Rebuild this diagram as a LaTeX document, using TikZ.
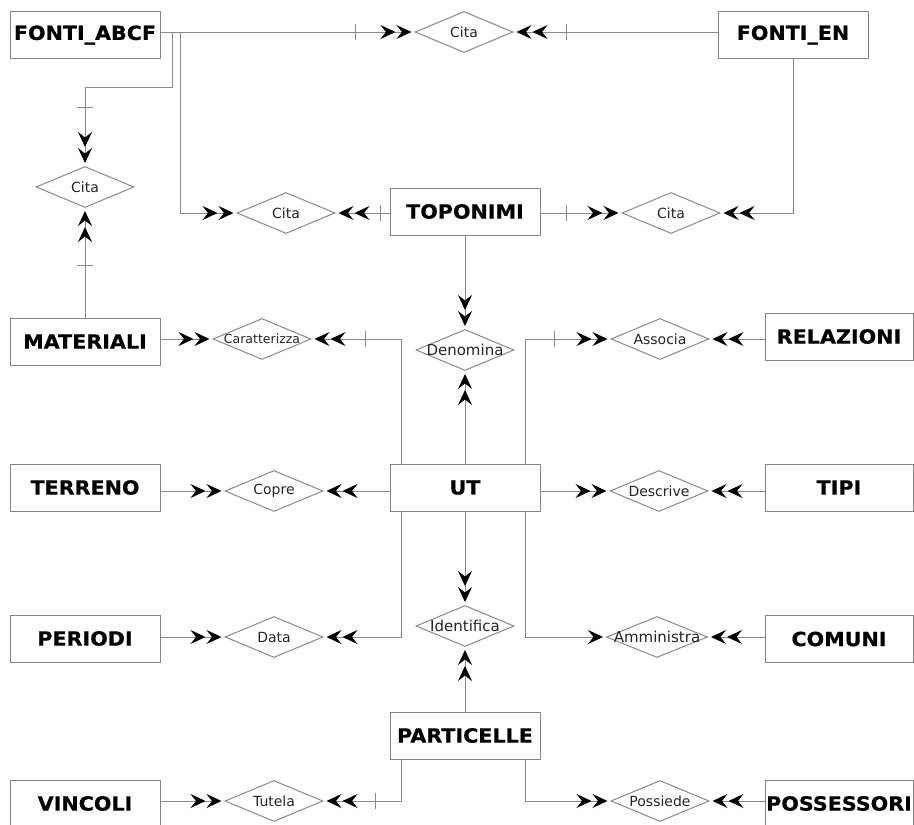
\documentclass[tikz,border=0pt]{standalone}
\usepackage{fontspec}
\usetikzlibrary{arrows.meta,shapes.geometric,calc}
\newfontfamily\entfont[FakeStretch=1.06,BoldFeatures={FakeBold=0.6}]{DejaVu Sans}
\newfontfamily\relfont{DejaVu Sans}
\definecolor{lineg}{HTML}{8A8A8A}
\definecolor{boxg}{HTML}{858585}
\tikzset{
  ent/.style={rectangle, draw=boxg, line width=1pt, minimum width=150pt,
    minimum height=47pt, inner sep=0pt, text=black,
    font=\entfont\bfseries\fontsize{19.5}{19.5}\selectfont},
  rel/.style={diamond, draw=lineg, line width=1pt, minimum width=98pt,
    minimum height=41pt, inner sep=0pt, text=black!85,
    font=\relfont\fontsize{14}{14}\selectfont,
    execute at begin node={\hbox to 0pt\bgroup\hss},
    execute at end node={\hss\egroup}},
  small/.style={font=\relfont\fontsize{12.5}{12.5}\selectfont},
  big/.style={font=\relfont\fontsize{15}{15}\selectfont},
  conn/.style={draw=lineg, line width=1pt},
  card/.style={conn, shorten >=3pt,
    -{Stealth[length=15pt,width=14pt,inset=5.5pt,sep=1pt,color=black]
      Stealth[length=15pt,width=14pt,inset=5.5pt,color=black]}},
  single/.style={conn, shorten >=3pt,
    -{Stealth[length=15pt,width=14pt,inset=5.5pt,color=black]}},
  tickln/.style={draw=lineg, line width=1pt},
}
\newcommand\vtick[2]{\draw[tickln] (#1,#2-8) -- (#1,#2+8);}
\newcommand\htick[2]{\draw[tickln] (#1-8,#2) -- (#1+8,#2);}
\begin{document}
\begin{tikzpicture}[x=1pt,y=-1pt]
\clip (0,0) rectangle (914,825);
\fill[white] (0,0) rectangle (914,825);

% entities
\node[ent] (fabcf) at (85,35) {FONTI\_ABCF};
\node[ent] (fen) at (793,35) {FONTI\_EN};
\node[ent] (topo) at (465,211.5) {TOPONIMI};
\node[ent] (mat) at (85,341.5) {MATERIALI};
\node[ent, minimum width=148pt] (rel) at (839,336.5) {RELAZIONI};
\node[ent] (terr) at (85,487.5) {TERRENO};
\node[ent] (ut) at (465,487.5) {UT};
\node[ent, minimum width=148pt] (tipi) at (839,487.5) {TIPI};
\node[ent] (per) at (85,638.5) {PERIODI};
\node[ent, minimum width=148pt] (com) at (839,639) {COMUNI};
\node[ent] (part) at (465,735.5) {PARTICELLE};
\node[ent] (vinc) at (85,803.5) {VINCOLI};
\node[ent, minimum width=148pt] (poss) at (839,803.5) {POSSESSORI};

% relationships
\node[rel] (cita1) at (464,32) {Cita};
\node[rel] (citaL) at (85,187) {Cita};
\node[rel] (citaML) at (286,213) {Cita};
\node[rel] (citaMR) at (671,213) {Cita};
\node[rel, small] (car) at (262,339) {Caratterizza};
\node[rel, big] (den) at (465,350) {Denomina};
\node[rel] (assoc) at (660,339) {Associa};
\node[rel] (copre) at (274,491) {Copre};
\node[rel] (descr) at (659,491) {Descrive};
\node[rel] (data) at (274,637) {Data};
\node[rel, big] (ident) at (465,626) {Identifica};
\node[rel, big, minimum width=101pt] (ammin) at (657,637) {Amministra};
\node[rel] (tutela) at (274,801) {Tutela};
\node[rel] (possd) at (660,801) {Possiede};

% connectors
\coordinate (fa1) at (172,32);
\coordinate (fa2) at (180,32);
\draw[card] (fabcf.east |- cita1.west) -- (cita1.west);
\draw[card] (fen.west |- cita1.east) -- (cita1.east);
\draw[card] (fa1) -- ++(0,55) -| (citaL.north);
\draw[card] (fa2) |- (citaML.west);
\draw[card] (fen.south) |- (citaMR.east);
\draw[card] (topo.west |- citaML.east) -- (citaML.east);
\draw[card] (topo.east |- citaMR.west) -- (citaMR.west);
\draw[card] (topo.south) -- (den.north);
\draw[card] (mat.north) -- (citaL.south);
\draw[card] (mat.east |- car.west) -- (car.west);
\draw[card] ([xshift=12pt]ut.north west) |- (car.east);
\draw[card] (ut.north) -- (den.south);
\draw[card] ([xshift=-15pt]ut.north east) |- (assoc.west);
\draw[card] (rel.west |- assoc.east) -- (assoc.east);
\draw[card] (terr.east |- copre.west) -- (copre.west);
\draw[card] (ut.west |- copre.east) -- (copre.east);
\draw[card] (ut.east |- descr.west) -- (descr.west);
\draw[card] (tipi.west |- descr.east) -- (descr.east);
\draw[card] (ut.south) -- (ident.north);
\draw[card] (part.north) -- (ident.south);
\draw[card] ([xshift=12pt]ut.south west) |- (data.east);
\draw[card] (per.east |- data.west) -- (data.west);
\draw[single] ([xshift=-15pt]ut.south east) |- (ammin.west);
\draw[card] (com.west |- ammin.east) -- (ammin.east);
\draw[card] ([xshift=12pt]part.south west) |- (tutela.east);
\draw[card] (vinc.east |- tutela.west) -- (tutela.west);
\draw[card] ([xshift=-15pt]part.south east) |- (possd.west);
\draw[card] (poss.west |- possd.east) -- (possd.east);

% cardinality bars
\vtick{355}{32}
\vtick{566}{32}
\vtick{380}{213}
\vtick{566}{213}
\htick{85}{107}
\htick{85}{265}
\vtick{365}{339}
\vtick{554}{339}
\vtick{375}{801}
\end{tikzpicture}
\end{document}
